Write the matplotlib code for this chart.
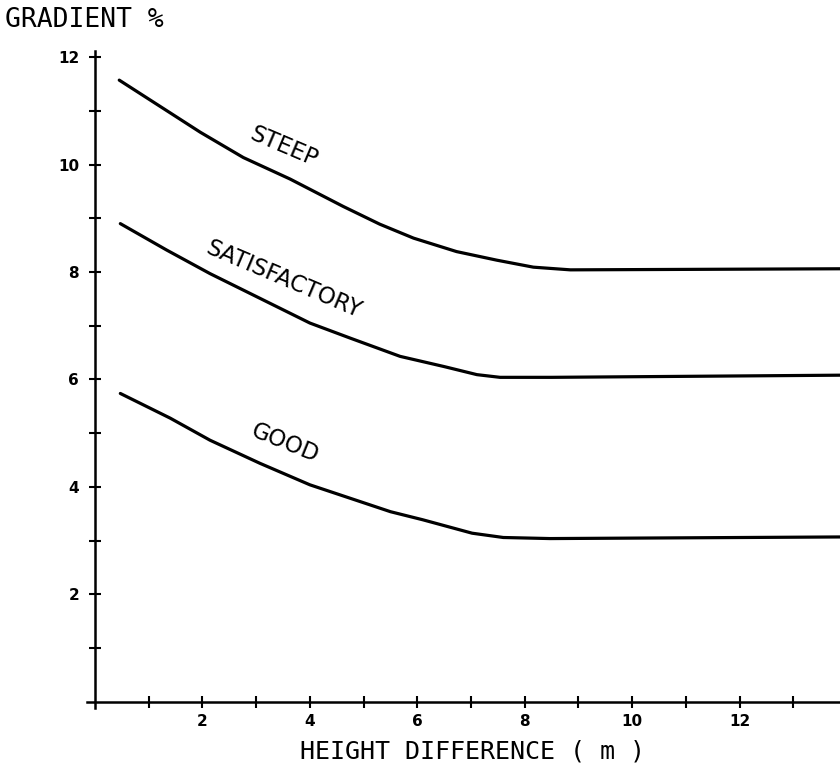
import matplotlib.pyplot as plt
import matplotlib as mpl
from matplotlib.ticker import FixedLocator

# --- data
x_steep = [0.45, 1.40, 1.96, 2.76, 3.63, 4.62, 5.30, 5.93, 6.73, 7.48, 8.16, 8.85, 13.87]
y_steep = [11.57, 10.96, 10.60, 10.13, 9.73, 9.22, 8.89, 8.63, 8.38, 8.22, 8.09, 8.04, 8.06]

x_satis = [0.47, 1.33, 2.14, 3.07, 4.00, 4.75, 5.68, 6.50, 7.11, 7.54, 8.50, 13.87]
y_satis = [8.90, 8.41, 7.97, 7.51, 7.05, 6.77, 6.43, 6.24, 6.09, 6.04, 6.04, 6.08]

x_good = [0.47, 1.40, 2.14, 3.07, 4.00, 4.75, 5.50, 6.10, 7.02, 7.60, 8.47, 13.87]
y_good = [5.74, 5.28, 4.87, 4.44, 4.04, 3.79, 3.54, 3.39, 3.14, 3.06, 3.04, 3.07]

labels = ['STEEP', 'SATISFACTORY', 'GOOD']
label_pos = [(3.51, 10.33), (3.51, 7.86), (3.54, 4.81)]
label_rot = [-23, -23, -22]

# --- figure
fig = plt.figure(figsize=(8.4, 7.71), dpi=100)
ax = fig.add_axes([0.1036, 0.0812, 0.8964, 0.8532])

lw = 2.3
for xs, ys in [(x_steep, y_steep), (x_satis, y_satis), (x_good, y_good)]:
    ax.plot(xs, ys, color='black', lw=lw, solid_capstyle='round', solid_joinstyle='round')

for txt, (tx, ty), rot in zip(labels, label_pos, label_rot):
    ax.text(tx, ty, txt, rotation=rot, rotation_mode='anchor', ha='center', va='center',
            fontsize=16.5, family='DejaVu Sans')

ax.set_xlim(-0.15, 13.87)
ax.set_ylim(-0.12, 12.12)

for s in ['top', 'right']:
    ax.spines[s].set_visible(False)
ax.spines['left'].set_position(('data', 0))
ax.spines['bottom'].set_position(('data', 0))
ax.spines['left'].set_linewidth(1.8)
ax.spines['bottom'].set_linewidth(1.8)

ax.xaxis.set_major_locator(FixedLocator([2, 4, 6, 8, 10, 12]))
ax.xaxis.set_minor_locator(FixedLocator([1, 3, 5, 7, 9, 11, 13]))
ax.yaxis.set_major_locator(FixedLocator([2, 4, 6, 8, 10, 12]))
ax.yaxis.set_minor_locator(FixedLocator([1, 3, 5, 7, 9, 11]))
ax.tick_params(which='both', direction='inout', length=9, width=1.5)
ax.tick_params(axis='x', pad=4)
ax.tick_params(axis='y', pad=7)
for lab in ax.get_xticklabels() + ax.get_yticklabels():
    lab.set_fontweight('bold')
    lab.set_fontsize(11)

fig.text(0.006, 0.974, 'GRADIENT %', fontsize=19, family='DejaVu Sans Mono',
         ha='left', va='center')
fig.text(0.562, 0.025, 'HEIGHT DIFFERENCE ( m )', fontsize=18, family='DejaVu Sans Mono',
         ha='center', va='center')

fig.savefig('out.png', dpi=100)
